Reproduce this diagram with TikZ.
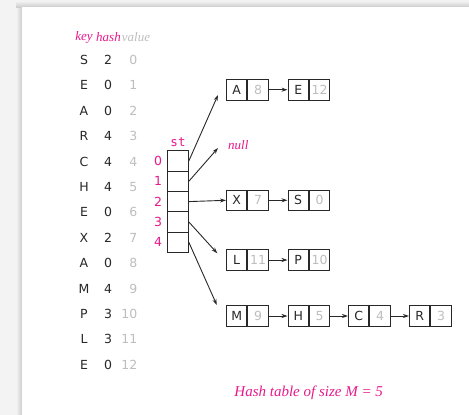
\documentclass[tikz,border=0pt]{standalone}
\usepackage{fontspec}
\setmainfont{Liberation Serif}
\newfontfamily\monof{DejaVu Sans}
\usetikzlibrary{arrows.meta}
\definecolor{mag}{RGB}{232,25,140}
\definecolor{valgray}{RGB}{190,190,190}
\definecolor{ink}{RGB}{40,40,40}
\definecolor{bggray}{RGB}{243,243,243}
\definecolor{shade}{RGB}{205,205,205}
\tikzset{
  keytxt/.style={font=\monof\fontsize{12.5}{12.5}\selectfont, text=ink, inner sep=0pt},
  valtxt/.style={font=\monof\fontsize{12.5}{12.5}\selectfont, text=valgray, inner sep=0pt},
  idxtxt/.style={font=\monof\fontsize{12.5}{12.5}\selectfont, text=mag, inner sep=0pt},
  hdr/.style={font=\itshape\fontsize{13}{13}\selectfont, inner sep=0pt},
  arrcell/.style={draw=ink, line width=1pt, minimum width=20.6pt, minimum height=20.3pt, inner sep=0pt},
  kcell/.style={draw=ink, line width=1pt, minimum width=20.4pt, minimum height=20.6pt, inner sep=0pt, anchor=west, font=\monof\fontsize{12.5}{12.5}\selectfont, text=ink},
  vcell/.style={kcell, text=valgray},
  link/.style={draw=ink, line width=0.9pt, -{Stealth[length=6pt,width=4pt]}},
}
\begin{document}
\begin{tikzpicture}[x=1pt,y=-1pt]
\useasboundingbox (0,0) rectangle (469,415);
\fill[bggray] (0,0) rectangle (469,415);
\shade[left color=bggray, right color=shade] (16,4) rectangle (22,415);
\shade[top color=bggray, bottom color=shade] (16,1) rectangle (469,7);
\fill[white] (22,7) rectangle (469,415);

% header
\node[hdr, text=mag] (hkey) at (84,37) {key};
\node[hdr, text=mag] (hhash) at (108.5,37) {hash};
\node[hdr, text=valgray] (hval) at (136,37) {value};

% table rows
\foreach \k/\h/\v [count=\i from 0] in {S/2/0,E/0/1,A/0/2,R/4/3,C/4/4,H/4/5,E/0/6,X/2/7,A/0/8,M/4/9,P/3/10,L/3/11,E/0/12}{
  \node[keytxt] (k\i) at (84,{60+25.4*\i}) {\k};
  \node[keytxt] (h\i) at (108,{60+25.4*\i}) {\h};
  \node[valtxt, anchor=east] (v\i) at (137.5,{60+25.4*\i}) {\v};
}

% array st
\node[idxtxt] (stlbl) at (178,142) {\fontspec{DejaVu Sans Mono}st};
\foreach \i in {0,...,4}{
  \node[arrcell] (c\i) at (178,{161+20.3*\i}) {};
  \node[idxtxt] (ix\i) at (158,{161+20.3*\i}) {\i};
}

% list A -> E
\node[kcell] (nA) at (226,89.7) {A};
\node[vcell] (nAv) at (nA.east) {8};
\node[kcell] (nE) at (287.5,89.7) {E};
\node[vcell] (nEv) at (nE.east) {12};
\draw[link] (nAv.east) -- (nE.west);

% null
\node[hdr, text=mag, anchor=west] (nul) at (228,145) {null};

% list X -> S
\node[kcell] (nX) at (226,200.3) {X};
\node[vcell] (nXv) at (nX.east) {7};
\node[kcell] (nS) at (287.5,200.3) {S};
\node[vcell] (nSv) at (nS.east) {0};
\draw[link] (nXv.east) -- (nS.west);

% list L -> P
\node[kcell] (nL) at (226,260) {L};
\node[vcell] (nLv) at (nL.east) {11};
\node[kcell] (nP) at (287.5,260) {P};
\node[vcell] (nPv) at (nP.east) {10};
\draw[link] (nLv.east) -- (nP.west);

% list M -> H -> C -> R
\node[kcell] (nM) at (226,316) {M};
\node[vcell] (nMv) at (nM.east) {9};
\node[kcell] (nH) at (287.5,316) {H};
\node[vcell] (nHv) at (nH.east) {5};
\node[kcell] (nC) at (348,316) {C};
\node[vcell] (nCv) at (nC.east) {4};
\node[kcell] (nR) at (409,316) {R};
\node[vcell] (nRv) at (nR.east) {3};
\draw[link] (nMv.east) -- (nH.west);
\draw[link] (nHv.east) -- (nC.west);
\draw[link] (nCv.east) -- (nR.west);

% pointers from array
\coordinate (t0) at (218,95);
\coordinate (t1) at (218,148);
\coordinate (t3) at (217.3,253.3);
\coordinate (t4) at (216.8,305);
\draw[link] (c0.east) -- (t0);
\draw[link] (c1.east) -- (t1);
\draw[link] (c2.east) -- (nX.west);
\draw[link] (c3.east) -- (t3);
\draw[link] (c4.east) -- (t4);

% caption
\node[hdr, text=mag, font=\itshape\fontsize{15}{15}\selectfont] (cap) at (308.7,393) {Hash table of size M = 5};
\end{tikzpicture}
\end{document}
